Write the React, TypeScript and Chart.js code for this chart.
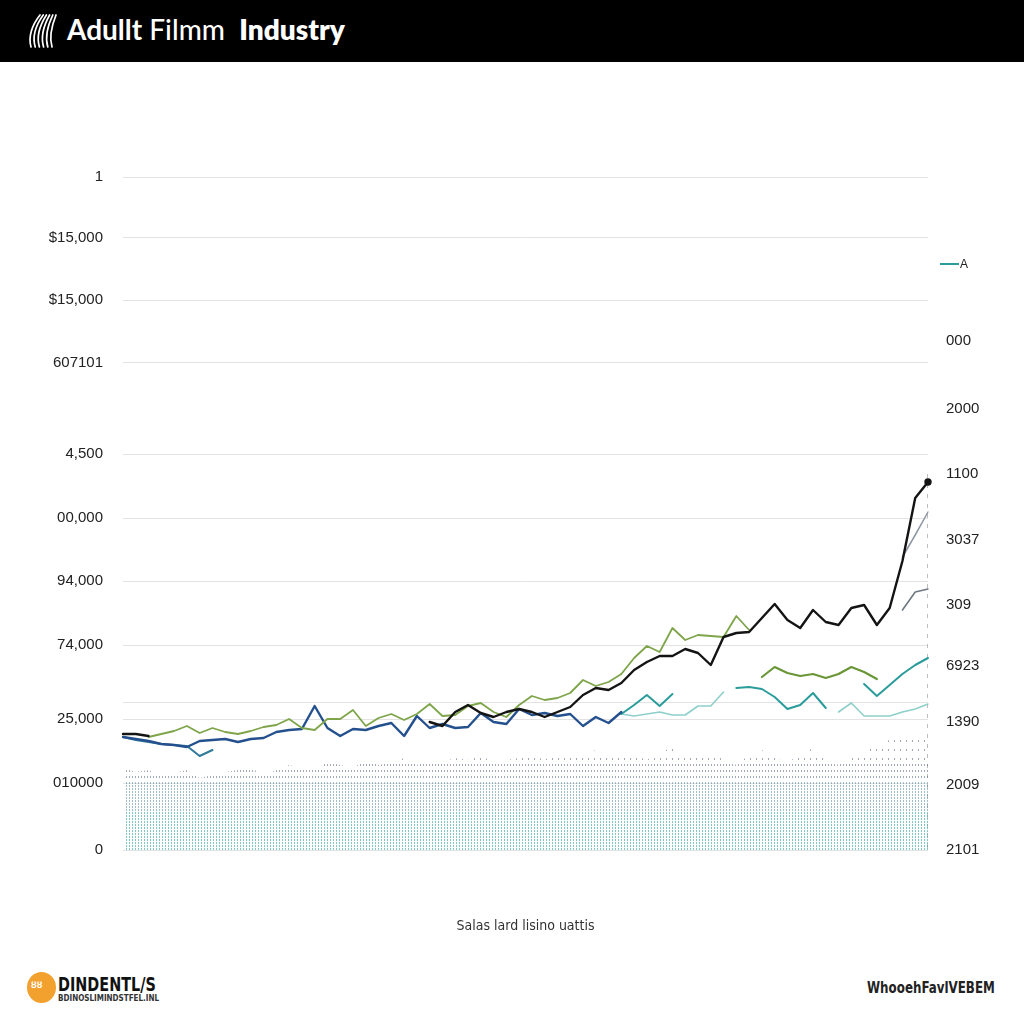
import React, { useEffect, useRef } from 'react';
import { Chart, registerables } from 'chart.js';

Chart.register(...registerables);

// ---------- data ----------
const POINT_COUNT = 64;
const categories: string[] = Array.from({ length: POINT_COUNT }, (_, i) => `P${i + 1}`);

// left axis tick values and their (printed) labels, bottom to top
const leftTickValues = [0, 13.4, 26.2, 29.6, 41, 53.8, 66.4, 79.2, 97.4, 110, 122.4, 134.6];
const leftTickLabels = ['0', '010000', '25,000', '', '74,000', '94,000', '00,000', '4,500', '607101', '$15,000', '$15,000', '1'];

// right axis tick values and labels, bottom to top
const rightTickValues = [0, 13, 25.6, 36.8, 49, 62, 75.2, 88.2, 101.8];
const rightTickLabels = ['2101', '2009', '1390', '6923', '309', '3037', '1100', '2000', '000'];

const Y_MAX = 134.6;

// series given as [startIndex, values] segments
const blackHead = [23.2, 23.2, 22.8];
const blackMain = [25.6, 24.8, 27.6, 29.0, 27.4, 26.6, 27.6, 28.2, 27.6, 26.6, 27.6, 28.6, 31.0, 32.4, 32.0, 33.4, 36.0, 37.6, 38.8, 38.8, 40.2, 39.4, 37.0, 42.6, 43.4, 43.6, 46.4, 49.2, 46.0, 44.4, 48.0, 45.6, 45.0, 48.4, 49.0, 45.0, 48.4, 57.8, 70.4, 73.6];
const grayUpper = [58.6, 63.0, 67.6];
const grayLower = [48.0, 51.6, 52.2];
const greenMain = [22.6, 23.2, 23.8, 24.8, 23.4, 24.4, 23.6, 23.2, 23.8, 24.6, 25.0, 26.2, 24.4, 24.0, 26.2, 26.2, 28.0, 24.8, 26.4, 27.2, 26.0, 27.2, 29.2, 26.8, 27.0, 28.8, 29.4, 27.6, 26.6, 29.0, 30.8, 30.0, 30.4, 31.4, 34.0, 32.8, 33.6, 35.2, 38.4, 40.8, 39.6, 44.4, 42.0, 43.0, 42.8, 42.6, 46.8, 44.0];
const greenLow = [34.6, 36.6, 35.4, 34.8, 35.2, 34.4, 35.2, 36.6, 35.6, 34.2];
const blueMain = [22.6, 22.2, 21.8, 21.2, 21.0, 20.6, 21.8, 22.0, 22.2, 21.6, 22.2, 22.4, 23.6, 24.0, 24.2, 28.8, 24.4, 22.8, 24.2, 24.0, 24.8, 25.4, 22.8, 26.8, 24.4, 25.2, 24.4, 24.6, 27.4, 25.6, 25.2, 28.2, 27.0, 27.4, 26.8, 27.2, 24.8, 26.6, 25.4, 27.6];
const steelHead = [22.6, 22.0, 21.6, 21.2, 21.0, 20.8, 18.8, 20.0];
const tealA = [27.2, 29.0, 31.0, 28.8, 31.2];
const tealB = [32.4, 32.6, 32.2, 30.6, 28.2, 29.0, 31.4, 28.4];
const tealC = [33.2, 30.8, 33.0, 35.2, 37.0, 38.4];
const lightTealA = [27.2, 26.8, 27.2, 27.6, 27.0, 27.0, 28.8, 28.8, 31.6];
const lightTealB = [27.6, 29.4, 26.8, 26.8, 26.8, 27.6, 28.2, 29.2];
const stippleTop = [
  16.4, 15.6, 16.0, 15.0, 15.4, 16.0, 14.4, 15.0, 15.6, 16.0, 16.4,
  15.0, 16.0, 17.0, 16.4, 16.0, 17.6, 17.0, 16.4, 18.0, 17.0,
  17.6, 18.4, 17.0, 18.0, 17.6, 18.4, 18.0, 18.8, 17.6, 18.0,
  18.4, 19.0, 18.0, 19.6, 18.4, 19.0, 20.0, 18.8, 19.6, 19.0,
  18.0, 19.6, 20.4, 19.0, 18.4, 19.6, 18.0, 17.0, 19.0, 20.0,
  18.4, 17.6, 19.0, 20.4, 18.0, 17.0, 18.4, 19.6, 21.0, 22.0, 22.4, 23.0, 23.4,
];

function toSeries(segments: [number, number[]][]): (number | null)[] {
  const out: (number | null)[] = new Array(POINT_COUNT).fill(null);
  segments.forEach(([start, vals]) => {
    vals.forEach((v, i) => {
      out[start + i] = v;
    });
  });
  return out;
}

const stippleCache = new WeakMap<any, any>();
function getStipple(chart: any) {
  const area = chart.chartArea;
  const key = `${area.left},${area.top},${area.right},${area.bottom}`;
  const cached = stippleCache.get(chart);
  if (cached && cached.key === key) return cached.pattern;
  const c = document.createElement('canvas');
  c.width = chart.width;
  c.height = chart.height;
  const g = c.getContext('2d')!;
  let col = 0;
  for (let x = Math.round(area.left) + 3; x < area.right; x += 3, col++) {
    let row = 0;
    for (let y = Math.round(area.bottom) - 2; y > area.top; y -= 3, row++) {
      const depth = area.bottom - y;
      if (depth > 170) break;
      let color: string;
      if (depth < 40) color = 'rgba(80,178,176,0.72)';
      else if (depth < 70) color = 'rgba(98,146,168,0.6)';
      else if (depth < 88) {
        if (row % 2) continue;
        color = 'rgba(100,112,135,0.6)';
      } else {
        if (row % 3 || col % 2) continue;
        color = 'rgba(95,105,125,0.6)';
      }
      g.fillStyle = color;
      g.fillRect(x, y, 1, 2);
    }
  }
  const pattern = g.createPattern(c, 'no-repeat');
  stippleCache.set(chart, { key, pattern });
  return pattern;
}

const rightDashPlugin = {
  id: 'rightDash',
  beforeDatasetsDraw(chart: any) {
    const { ctx, chartArea, scales } = chart;
    const yTop = scales.y2.getPixelForValue(75.2);
    ctx.save();
    ctx.strokeStyle = '#bdbdbd';
    ctx.lineWidth = 1;
    ctx.setLineDash([4, 6]);
    ctx.beginPath();
    ctx.moveTo(chartArea.right - 0.5, yTop);
    ctx.lineTo(chartArea.right - 0.5, chartArea.bottom);
    ctx.stroke();
    ctx.restore();
  },
};

function line(label: string, data: (number | null)[], color: string, width: number, extra: any = {}) {
  return {
    type: 'line',
    label,
    data,
    borderColor: color,
    backgroundColor: color,
    borderWidth: width,
    pointRadius: 0,
    tension: 0,
    spanGaps: false,
    borderJoinStyle: 'round',
    borderCapStyle: 'round',
    fill: false,
    ...extra,
  };
}

function ChartCanvas() {
  const ref = useRef<HTMLCanvasElement | null>(null);
  useEffect(() => {
    if (!ref.current) return;
    Chart.defaults.font.family = '"Liberation Sans", Arial, sans-serif';
    const chart = new Chart(ref.current, {
      type: 'line',
      data: {
        labels: categories,
        datasets: [
          line('Black', toSeries([[0, blackHead], [24, blackMain]]), '#141414', 2.4, {
            pointRadius: (c: any) => (c.dataIndex === POINT_COUNT - 1 ? 2.5 : 0),
          }),
          line('Gray upper', toSeries([[61, grayUpper]]), '#8e96a3', 1.5),
          line('Gray lower', toSeries([[61, grayLower]]), '#6f7782', 1.6),
          line('Green', toSeries([[2, greenMain]]), '#7ea54a', 1.8),
          line('Green low', toSeries([[50, greenLow]]), '#6a9636', 2.2),
          line('Blue', toSeries([[0, blueMain]]), '#24508e', 2.4),
          line('Steel', toSeries([[0, steelHead]]), '#2f7a9a', 2),
          line('Teal', toSeries([[39, tealA], [48, tealB], [58, tealC]]), '#2a9c9b', 2),
          line('Light teal', toSeries([[39, lightTealA], [56, lightTealB]]), '#8fcfcb', 1.6),
          {
            type: 'line',
            label: 'Volume',
            data: stippleTop,
            borderWidth: 0,
            borderColor: 'rgba(0,0,0,0)',
            pointRadius: 0,
            tension: 0,
            fill: 'origin',
            backgroundColor: (c: any) => {
              const ch = c.chart;
              if (!ch.chartArea) return 'rgba(0,0,0,0)';
              return getStipple(ch);
            },
          },
        ] as any,
      },
      options: {
        responsive: false,
        animation: false,
        layout: { padding: { top: 115, bottom: 21, left: 0, right: 0 } },
        plugins: { legend: { display: false }, tooltip: { enabled: false } },
        scales: {
          x: {
            type: 'category',
            offset: false,
            grid: { display: false },
            border: { display: false },
            ticks: { display: false },
            title: {
              display: true,
              text: 'Salas lard lisino uattis',
              color: '#333',
              font: { size: 14, family: '"Liberation Sans Narrow", "DejaVu Sans Condensed", sans-serif' },
              padding: { top: 4, bottom: 4 },
            },
            afterFit: (s: any) => {
              s.height = 89;
            },
          },
          y: {
            type: 'linear',
            position: 'left',
            min: 0,
            max: Y_MAX,
            grid: { color: '#e3e3e3', lineWidth: 1, drawTicks: false },
            border: { display: false },
            ticks: {
              autoSkip: false,
              padding: 20,
              color: '#222',
              font: { size: 15 },
              callback: (_v: any, i: number) => leftTickLabels[i],
            },
            afterBuildTicks: (s: any) => {
              s.ticks = leftTickValues.map((v) => ({ value: v }));
            },
            afterFit: (s: any) => {
              s.width = 123;
            },
          },
          y2: {
            type: 'linear',
            position: 'right',
            min: 0,
            max: Y_MAX,
            grid: { display: false, drawTicks: false },
            border: { display: false },
            ticks: {
              autoSkip: false,
              padding: 18,
              color: '#222',
              font: { size: 15 },
              callback: (_v: any, i: number) => rightTickLabels[i],
            },
            afterBuildTicks: (s: any) => {
              s.ticks = rightTickValues.map((v) => ({ value: v }));
            },
            afterFit: (s: any) => {
              s.width = 96;
            },
          },
        },
      } as any,
      plugins: [rightDashPlugin],
    });
    return () => chart.destroy();
  }, []);
  return <canvas ref={ref} width={1024} height={898} style={{ display: 'block', width: 1024, height: 898 }} />;
}

function HeaderLogo() {
  const strokes = [0, 1, 2, 3, 4, 5];
  return (
    <svg width="34" height="38" style={{ position: 'absolute', left: 27, top: 12 }}>
      {strokes.map((i) => (
        <path
          key={i}
          d={`M ${4 + i * 4.2} 35 C ${1 + i * 4.2} 25, ${5 + i * 4} 13, ${13 + i * 3.2} 3`}
          stroke="#fff"
          strokeWidth={1.7}
          fill="none"
          strokeLinecap="round"
        />
      ))}
    </svg>
  );
}

const narrowFont = '"Liberation Sans Narrow", "DejaVu Sans Condensed", sans-serif';

export default function App() {
  return (
    <div
      style={{
        position: 'fixed',
        left: 0,
        top: 0,
        width: 1024,
        height: 1024,
        background: '#fff',
        overflow: 'hidden',
        fontFamily: '"Liberation Sans", Arial, sans-serif',
      }}
    >
      <div style={{ position: 'absolute', left: 0, top: 0, width: 1024, height: 62, background: '#000' }}>
        <HeaderLogo />
        <div
          style={{
            position: 'absolute',
            left: 67,
            top: 12,
            lineHeight: '34px',
            fontSize: 28,
            color: '#fff',
            fontFamily: 'Lato, "Open Sans", sans-serif',
            whiteSpace: 'nowrap',
          }}
        >
          <span style={{ fontWeight: 700 }}>Adullt</span>{' '}
          <span style={{ fontWeight: 500 }}>Filmm</span>
          {'\u00a0\u00a0'}
          <span style={{ fontWeight: 800 }}>Industry</span>
        </div>
      </div>

      <div style={{ position: 'absolute', left: 0, top: 62, width: 1024, height: 898 }}>
        <ChartCanvas />
      </div>

      <div style={{ position: 'absolute', left: 940, top: 256, height: 16, display: 'flex', alignItems: 'center' }}>
        <div style={{ width: 19, height: 1.5, background: '#2a9c9b' }} />
        <span style={{ fontSize: 12, color: '#222', marginLeft: 1 }}>A</span>
      </div>

      <div style={{ position: 'absolute', left: 27, top: 972, width: 29, height: 31 }}>
        <div
          style={{
            position: 'absolute',
            left: 0,
            top: 0,
            width: 29,
            height: 31,
            borderRadius: '50%',
            background: '#f3a12e',
          }}
        />
        <div
          style={{
            position: 'absolute',
            left: 4,
            top: 8,
            fontSize: 9,
            fontWeight: 700,
            color: '#fff',
          }}
        >
          ȣȣ
        </div>
      </div>
      <div
        style={{
          position: 'absolute',
          left: 58,
          top: 973,
          fontFamily: narrowFont,
          fontWeight: 700,
          fontSize: 20,
          lineHeight: '22px',
          color: '#111',
          whiteSpace: 'nowrap',
          transform: 'scaleX(0.8)',
          transformOrigin: 'left top',
        }}
      >
        DINDENTL/S
      </div>
      <div
        style={{
          position: 'absolute',
          left: 58,
          top: 994,
          fontFamily: narrowFont,
          fontWeight: 700,
          fontSize: 8,
          lineHeight: '9px',
          color: '#333',
          whiteSpace: 'nowrap',
        }}
      >
        BDINOSLIMINDSTFEL.INL
      </div>
      <div
        style={{
          position: 'absolute',
          left: 867,
          top: 979,
          fontFamily: narrowFont,
          fontWeight: 700,
          fontSize: 15,
          lineHeight: '18px',
          color: '#222',
          whiteSpace: 'nowrap',
          transform: 'scaleX(0.88)',
          transformOrigin: 'left top',
        }}
      >
        WhooehFavlVEBEM
      </div>
    </div>
  );
}
